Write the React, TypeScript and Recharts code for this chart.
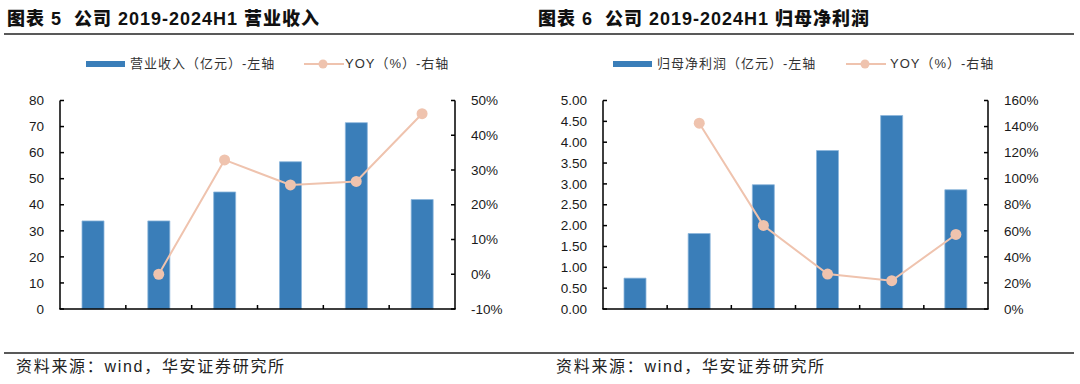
import React from "react";
import { ComposedChart, Bar, Line, XAxis, YAxis } from "recharts";

const YEARS = ["2019", "2020", "2021", "2022", "2023", "2024H1"];

const REVENUE = [33.8, 33.8, 44.9, 56.5, 71.5, 42.0];
const REVENUE_YOY = [null, 0, 32.9, 25.7, 26.7, 46.2];
const PROFIT = [0.74, 1.81, 2.98, 3.8, 4.64, 2.86];
const PROFIT_YOY = [null, 142.6, 64.1, 26.8, 21.7, 57.2];

const REVENUE_TICKS = [0, 10, 20, 30, 40, 50, 60, 70, 80];
const REVENUE_YOY_TICKS = [-10, 0, 10, 20, 30, 40, 50];
const PROFIT_TICKS = [0, 0.5, 1, 1.5, 2, 2.5, 3, 3.5, 4, 4.5, 5];
const PROFIT_YOY_TICKS = [0, 20, 40, 60, 80, 100, 120, 140, 160];
const CATEGORY_EDGES = [1, 2, 3, 4, 5];

const BAR_COLOR = "#3a7eb9";
const LINE_COLOR = "#efc3ae";
const AXIS_COLOR = "#000";
const TICK_FONT = "'Liberation Sans', Arial, sans-serif";
const CJK_FONT = "'Liberation Sans', 'Noto Sans CJK SC', sans-serif";
const TICK_LEN = 4;
const LABEL_GAP = 16;
const CHART_W = 540;
const CHART_H = 384;
const MARGIN_TOP = 100.5;
const MARGIN_BOTTOM = 75;

const textProps = { fontSize: 13.5, fill: "#1a1a1a", fontFamily: TICK_FONT };

// y-axis tick: label plus a short inward tick mark
function makeYTick(side: "left" | "right", fmt: (v: number) => string) {
  return (props: any) => {
    const { x, y, payload } = props;
    const axisX = side === "left" ? x + LABEL_GAP : x - LABEL_GAP;
    const inner = side === "left" ? axisX + TICK_LEN : axisX - TICK_LEN;
    return (
      <g>
        <rect
          x={Math.min(axisX, inner)}
          y={y - 0.75}
          width={TICK_LEN}
          height={1.5}
          fill={AXIS_COLOR}
        />
        <text x={x} y={y} dy="0.35em" textAnchor={side === "left" ? "end" : "start"} {...textProps}>
          {fmt(payload.value)}
        </text>
      </g>
    );
  };
}

// axis lines and category boundary ticks, on the same plot box as the chart
function Frame({ leftW, rightW }: { leftW: number; rightW: number }) {
  const x0 = leftW;
  const x1 = CHART_W - rightW;
  const y0 = MARGIN_TOP;
  const y1 = CHART_H - MARGIN_BOTTOM;
  const t = 1.5;
  return (
    <svg
      width={CHART_W}
      height={CHART_H}
      style={{ position: "absolute", left: 0, top: 0, pointerEvents: "none" }}
    >
      <rect x={x0 - t / 2} y={y0} width={t} height={y1 - y0} fill={AXIS_COLOR} />
      <rect x={x1 - t / 2} y={y0} width={t} height={y1 - y0} fill={AXIS_COLOR} />
      <rect x={x0 - t / 2} y={y1 - t / 2} width={x1 - x0 + t} height={t} fill={AXIS_COLOR} />
      {CATEGORY_EDGES.map((e) => {
        const ex = x0 + (e / YEARS.length) * (x1 - x0);
        return <rect key={e} x={ex - 0.75} y={y1 - TICK_LEN} width={1.5} height={TICK_LEN} fill={AXIS_COLOR} />;
      })}
    </svg>
  );
}

type PanelProps = {
  left: number;
  title: string;
  barName: string;
  bars: number[];
  yoy: (number | null)[];
  leftTicks: number[];
  rightTicks: number[];
  leftFormat: (v: number) => string;
  yAxisLeftWidth: number;
  yAxisRightWidth: number;
  titleLeft: number;
  legend: { swatch: number; text: number; line: number; lineText: number };
};

function Panel(p: PanelProps) {
  const data = YEARS.map((year, i) => ({ year, value: p.bars[i], yoy: p.yoy[i] }));
  return (
    <div style={{ position: "absolute", left: p.left, top: 0, width: CHART_W, height: CHART_H }}>
      <div
        style={{
          position: "absolute",
          left: p.titleLeft,
          top: 9,
          fontSize: 18,
          lineHeight: "20px",
          fontWeight: 900,
          letterSpacing: 1,
          whiteSpace: "pre",
          fontFamily: CJK_FONT,
          color: "#111",
        }}
      >
        {p.title}
      </div>

      {/* legend */}
      <div
        style={{
          position: "absolute",
          left: p.legend.swatch,
          top: 61,
          width: 39,
          height: 6,
          background: BAR_COLOR,
        }}
      />
      <div
        style={{
          position: "absolute",
          left: p.legend.text,
          top: 55,
          fontSize: 13,
          lineHeight: "18px",
          letterSpacing: 1,
          whiteSpace: "pre",
          fontFamily: CJK_FONT,
          color: "#333",
        }}
      >
        {p.barName + "（亿元）-左轴"}
      </div>
      <svg
        style={{ position: "absolute", left: p.legend.line, top: 56 }}
        width={40}
        height={16}
      >
        <line x1={0} y1={8} x2={40} y2={8} stroke={LINE_COLOR} strokeWidth={2} />
        <circle cx={19} cy={8} r={4.5} fill={LINE_COLOR} />
      </svg>
      <div
        style={{
          position: "absolute",
          left: p.legend.lineText,
          top: 55,
          fontSize: 13,
          lineHeight: "18px",
          letterSpacing: 1,
          whiteSpace: "pre",
          fontFamily: CJK_FONT,
          color: "#333",
        }}
      >
        YOY（%）-右轴
      </div>

      <div style={{ position: "absolute", left: 0, top: 0, width: CHART_W, height: CHART_H }}>
        <ComposedChart
          width={CHART_W}
          height={CHART_H}
          data={data}
          margin={{ top: MARGIN_TOP, right: 0, bottom: MARGIN_BOTTOM, left: 0 }}
        >
          <XAxis
            dataKey="year"
            height={0}
            axisLine={false}
            tickLine={false}
            tickSize={0}
            tickMargin={13}
            tick={textProps}
            interval={0}
          />
          <YAxis
            yAxisId="left"
            width={p.yAxisLeftWidth}
            domain={[p.leftTicks[0], p.leftTicks[p.leftTicks.length - 1]]}
            ticks={p.leftTicks}
            interval={0}
            axisLine={false}
            tickLine={false}
            tickSize={0}
            tickMargin={LABEL_GAP}
            tick={makeYTick("left", p.leftFormat)}
          />
          <YAxis
            yAxisId="right"
            orientation="right"
            width={p.yAxisRightWidth}
            domain={[p.rightTicks[0], p.rightTicks[p.rightTicks.length - 1]]}
            ticks={p.rightTicks}
            interval={0}
            axisLine={false}
            tickLine={false}
            tickSize={0}
            tickMargin={LABEL_GAP}
            tick={makeYTick("right", (v: number) => `${v}%`)}
          />
          <Bar
            yAxisId="left"
            dataKey="value"
            barSize={22}
            fill={BAR_COLOR}
            stroke="#8db6dc"
            strokeWidth={0.8}
            isAnimationActive={false}
          />
          <Line
            yAxisId="right"
            dataKey="yoy"
            stroke={LINE_COLOR}
            strokeWidth={2}
            dot={{ r: 5.5, fill: LINE_COLOR, stroke: LINE_COLOR, strokeWidth: 0 }}
            activeDot={false}
            isAnimationActive={false}
          />
        </ComposedChart>
        <Frame leftW={p.yAxisLeftWidth} rightW={p.yAxisRightWidth} />
      </div>

      <div
        style={{
          position: "absolute",
          left: 16,
          top: 357,
          fontSize: 16,
          lineHeight: "20px",
          letterSpacing: 1.7,
          whiteSpace: "pre",
          fontFamily: CJK_FONT,
          color: "#222",
        }}
      >
        资料来源：wind，华安证券研究所
      </div>
    </div>
  );
}

export default function App() {
  return (
    <div
      style={{
        position: "absolute",
        left: 0,
        top: 0,
        width: 1080,
        height: 384,
        background: "#fff",
        overflow: "hidden",
      }}
    >
      <div style={{ position: "absolute", left: 4, top: 33, width: 1070, height: 2, background: "#595959" }} />
      <div style={{ position: "absolute", left: 4, top: 352, width: 1070, height: 2, background: "#595959" }} />
      <Panel
        left={0}
        title={"图表 5  公司 2019-2024H1 营业收入"}
        barName="营业收入"
        bars={REVENUE}
        yoy={REVENUE_YOY}
        leftTicks={REVENUE_TICKS}
        rightTicks={REVENUE_YOY_TICKS}
        leftFormat={(v: number) => String(v)}
        yAxisLeftWidth={60}
        yAxisRightWidth={85}
        titleLeft={7}
        legend={{ swatch: 86, text: 130, line: 304, lineText: 345 }}
      />
      <Panel
        left={540}
        title={"图表 6  公司 2019-2024H1 归母净利润"}
        barName="归母净利润"
        bars={PROFIT}
        yoy={PROFIT_YOY}
        leftTicks={PROFIT_TICKS}
        rightTicks={PROFIT_YOY_TICKS}
        leftFormat={(v: number) => v.toFixed(2)}
        yAxisLeftWidth={63}
        yAxisRightWidth={92}
        titleLeft={-2}
        legend={{ swatch: 73, text: 117, line: 306, lineText: 350 }}
      />
    </div>
  );
}
